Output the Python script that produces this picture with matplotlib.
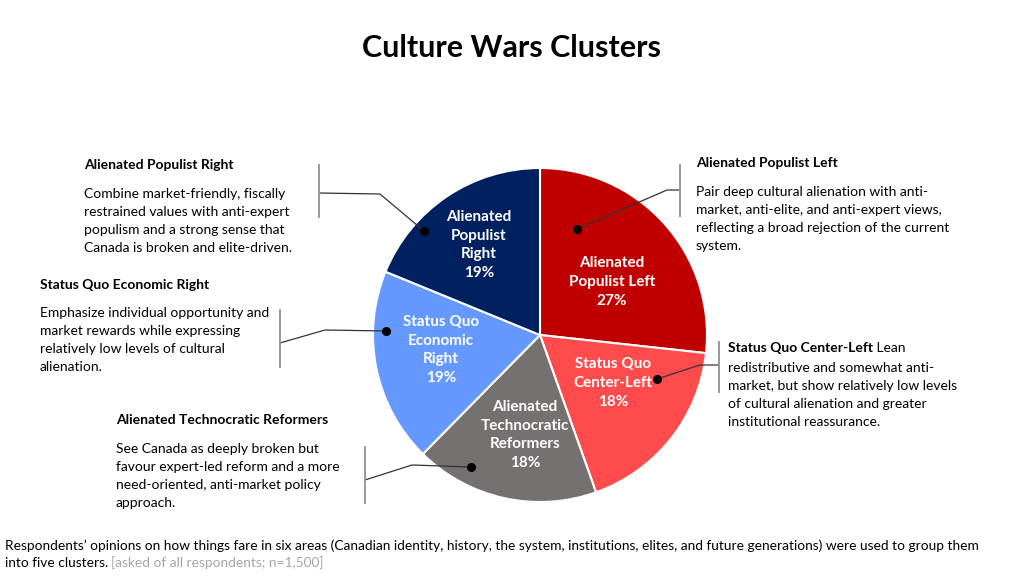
import matplotlib
matplotlib.use("Agg")
import matplotlib.pyplot as plt

plt.rcParams['font.family'] = ['Lato', 'DejaVu Sans']

# data
clusters = ["Alienated\nPopulist Left", "Status Quo\nCenter-Left", "Alienated\nTechnocratic\nReformers",
            "Status Quo\nEconomic\nRight", "Alienated\nPopulist\nRight"]
shares = [27, 18, 18, 19, 19]
colors = ["#C00000", "#FF4B4B", "#767171", "#6699FF", "#002060"]

headings = ["Alienated Populist Left", "Status Quo Center-Left", "Alienated Technocratic Reformers",
            "Status Quo Economic Right", "Alienated Populist Right"]
descriptions = [
    "Pair deep cultural alienation with anti-\nmarket, anti-elite, and anti-expert views,\nreflecting a broad rejection of the current\nsystem.",
    " Lean\nredistributive and somewhat anti-\nmarket, but show relatively low levels\nof cultural alienation and greater\ninstitutional reassurance.",
    "See Canada as deeply broken but\nfavour expert-led reform and a more\nneed-oriented, anti-market policy\napproach.",
    "Emphasize individual opportunity and\nmarket rewards while expressing\nrelatively low levels of cultural\nalienation.",
    "Combine market-friendly, fiscally\nrestrained values with anti-expert\npopulism and a strong sense that\nCanada is broken and elite-driven.",
]

W, H = 1024, 576
fig = plt.figure(figsize=(W / 100, H / 100), dpi=100)
ax = fig.add_axes([0, 0, 1, 1])


def Y(py):
    # convert pixel row (from top) to data y
    return H - py


cx, cy, r = 540, Y(335), 167
wedges, _ = ax.pie(shares, colors=colors, startangle=90, counterclock=False,
                   center=(cx, cy), radius=r, frame=True,
                   wedgeprops=dict(edgecolor='white', linewidth=1.5))
ax.set_xlim(0, W)
ax.set_ylim(0, H)
ax.set_aspect('equal')
ax.axis('off')

# labels inside slices
label_pos = [(612, 282), (613, 383), (525, 435), (441, 350), (479, 245)]
for name, val, (lx, ly) in zip(clusters, shares, label_pos):
    ax.text(lx, Y(ly), f"{name}\n{val}%", color='white', fontweight='bold', fontsize=11,
            ha='center', va='center', linespacing=1.45)

# leader lines: dot, elbow, bracket point, bracket span
leaders = [
    [(577, 229), (667, 190), (680, 190)],
    [(657, 379), (700, 365), (719, 365)],
    [(471, 467), (412, 465), (365, 480)],
    [(386, 331), (325, 330), (280, 343)],
    [(424, 231), (380, 194), (319, 193)],
]
brackets = [(680, 165, 216), (719, 342, 392), (365, 447, 503), (280, 310, 367), (319, 165, 217)]
for pts, (bx, b0, b1) in zip(leaders, brackets):
    xs = [p[0] for p in pts]
    ys = [Y(p[1]) for p in pts]
    ax.plot(xs, ys, color='#333333', lw=0.9, zorder=3)
    ax.plot(xs[0], ys[0], 'o', color='black', ms=5.5, zorder=4)
    ax.plot([bx, bx], [Y(b0), Y(b1)], color='#999999', lw=1.4, zorder=3)

# text blocks
text_pos = [(696, 163, 190), (728, 348, 366), (116, 420, 447), (40, 285, 311), (84, 165, 192)]
fig.canvas.draw()
renderer = fig.canvas.get_renderer()
for head, desc, (tx, hy, dy) in zip(headings, descriptions, text_pos):
    t = ax.text(tx, Y(hy), head, fontweight='bold', fontsize=10, ha='left', va='center', color='black')
    if desc.startswith(" "):
        bb = t.get_window_extent(renderer)
        first, rest = desc.split("\n", 1)
        ax.text(bb.x1, Y(hy), first, fontsize=10, ha='left', va='center')
        ax.text(tx, Y(dy - 4), rest, fontsize=10, ha='left', va='top', linespacing=1.6)
    else:
        ax.text(tx, Y(dy - 4), desc, fontsize=10, ha='left', va='top', linespacing=1.6)

ax.text(W / 2, Y(48), "Culture Wars Clusters", fontsize=22, fontweight='bold', ha='center', va='center')

# footnote, shrunk to fit the reference line length
line1 = ("Respondents\u2019 opinions on how things fare in six areas (Canadian identity, history, the system, "
         "institutions, elites, and future generations) were used to group them")
f1 = ax.text(5, Y(546), line1, fontsize=9.5, ha='left', va='center')
w1 = f1.get_window_extent(renderer).width
fs = 9.5 * 980 / w1
f1.set_fontsize(fs)
t2 = ax.text(5, Y(563), "into five clusters.", fontsize=fs, ha='left', va='center')
bb = t2.get_window_extent(renderer)
ax.text(bb.x1 + 3, Y(563), "[asked of all respondents; n=1,500]", fontsize=fs,
        color='#A6A6A6', ha='left', va='center')

fig.savefig("out.png", dpi=100)
